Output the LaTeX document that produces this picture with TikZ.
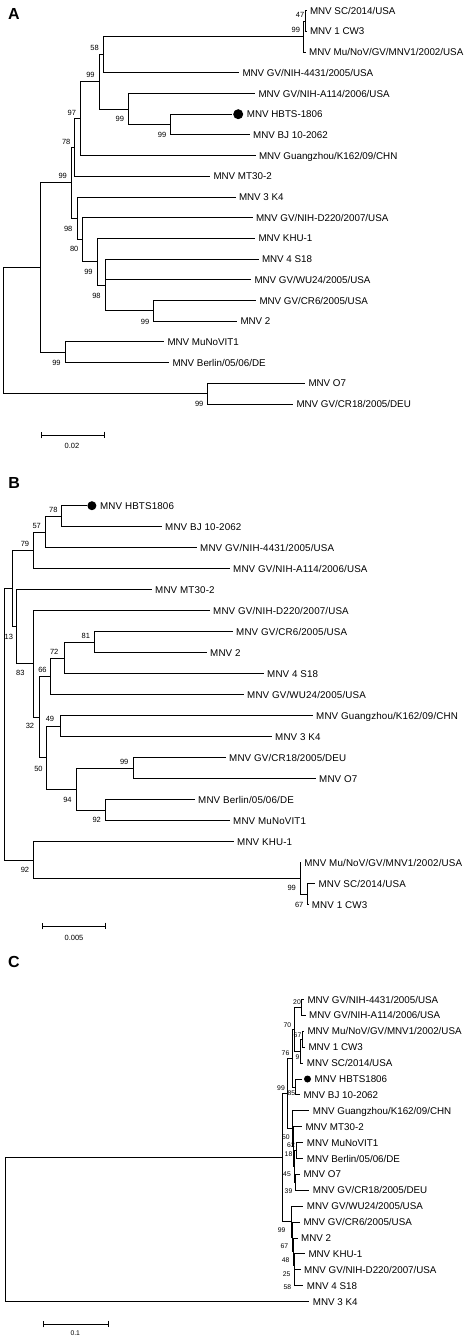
\documentclass[tikz,border=0pt]{standalone}
\usepackage{fontspec}
\setmainfont{Liberation Sans}
\newfontfamily\spacedsans[LetterSpace=1.5]{Liberation Sans}
\usetikzlibrary{arrows.meta,positioning}

\begin{document}
\begin{tikzpicture}[
  x=1pt, y=-1pt,
  branch/.style={line width=0.85pt},
  leaf/.style={anchor=west, inner xsep=3.3pt, inner ysep=0pt, text height=7pt, text depth=0pt, font=\fontsize{9.8}{10}\selectfont},
  leafb/.style={leaf, font=\fontsize{9.8}{10}\spacedsans},
  boot/.style={inner sep=0pt, text height=5.4pt, text depth=0pt, font=\fontsize{7.5}{8}\selectfont},
  bootc/.style={boot, text height=4.9pt, font=\fontsize{6.8}{7}\selectfont},
  hbdot/.style={circle, fill=black, inner sep=0pt, minimum size=#1, anchor=west},
  panel/.style={inner sep=0pt, font=\fontsize{16}{18}\selectfont\bfseries},
  scalebar/.style={line width=0.85pt, {Bar[width=6.7pt]}-{Bar[width=6.7pt]}}
]
\path[fill=white, use as bounding box] (0,0) rectangle (468,1339);

% panel A
\node[panel] (lab-a) at (14,14.2) {A};
\node[leaf] (a-sc) at (306.5,10.7) {MNV SC/2014/USA};
\node[leaf] (a-cw3) at (306.5,31.4) {MNV 1 CW3};
\node[leaf] (a-mu) at (305.7,52.1) {MNV Mu/NoV/GV/MNV1/2002/USA};
\node[leaf] (a-4431) at (239,72.8) {MNV GV/NIH-4431/2005/USA};
\node[leaf] (a-a114) at (255,93.5) {MNV GV/NIH-A114/2006/USA};
\node[hbdot=10pt] (a-dot) at (233,114.2) {};
\node[leaf, right=0pt of a-dot] (a-hbts) {MNV HBTS-1806};
\node[leaf] (a-bj) at (249.7,134.9) {MNV BJ 10-2062};
\node[leaf] (a-gz) at (255.5,155.6) {MNV Guangzhou/K162/09/CHN};
\node[leaf] (a-mt) at (210,176.3) {MNV MT30-2};
\node[leaf] (a-k4) at (235.5,197) {MNV 3 K4};
\node[leaf] (a-d220) at (252.5,217.7) {MNV GV/NIH-D220/2007/USA};
\node[leaf] (a-khu) at (255,238.4) {MNV KHU-1};
\node[leaf] (a-s18) at (258.5,259.1) {MNV 4 S18};
\node[leaf] (a-wu24) at (251,279.8) {MNV GV/WU24/2005/USA};
\node[leaf] (a-cr6) at (256,300.5) {MNV GV/CR6/2005/USA};
\node[leaf] (a-mnv2) at (237,321.2) {MNV 2};
\node[leaf] (a-vit) at (164,341.9) {MNV MuNoVIT1};
\node[leaf] (a-ber) at (169,362.6) {MNV Berlin/05/06/DE};
\node[leaf] (a-o7) at (305,383.3) {MNV O7};
\node[leaf] (a-cr18) at (293,404) {MNV GV/CR18/2005/DEU};

\coordinate (a47) at (305,21.05);
\coordinate (a99a) at (303.5,36.6);
\coordinate (a58) at (103.3,54.7);
\coordinate (a99c) at (170,124.55);
\coordinate (a99b) at (128.3,109);
\coordinate (a99d) at (99.3,81.85);
\coordinate (a97) at (80,118.7);
\coordinate (a78) at (74,147.5);
\coordinate (a99h) at (153.3,310.85);
\coordinate (a98b) at (105,285);
\coordinate (a99g) at (97.3,261.7);
\coordinate (a80) at (82.3,239.7);
\coordinate (a98) at (77.7,218.35);
\coordinate (a99e) at (71,182.9);
\coordinate (a99f) at (65.7,352.25);
\coordinate (a-x1) at (40,267.6);
\coordinate (a99i) at (207.7,393.65);
\coordinate (a-root) at (3.3,330.6);

\draw[branch] (a47) |- (a-sc.west) (a47) |- (a-cw3.west);
\draw[branch] (a99a) |- (a47) (a99a) |- (a-mu.west);
\draw[branch] (a58) |- (a99a) (a58) |- (a-4431.west);
\draw[branch, shorten >=1.3pt] (a99c) |- (a-dot.west);
\draw[branch] (a99c) |- (a-bj.west);
\draw[branch] (a99b) |- (a-a114.west) (a99b) |- (a99c);
\draw[branch] (a99d) |- (a58) (a99d) |- (a99b);
\draw[branch] (a97) |- (a99d) (a97) |- (a-gz.west);
\draw[branch] (a78) |- (a97) (a78) |- (a-mt.west);
\draw[branch] (a99h) |- (a-cr6.west) (a99h) |- (a-mnv2.west);
\draw[branch] (a98b) |- (a-s18.west) (a98b) |- (a-wu24.west) (a98b) |- (a99h);
\draw[branch] (a99g) |- (a-khu.west) (a99g) |- (a98b);
\draw[branch] (a80) |- (a-d220.west) (a80) |- (a99g);
\draw[branch] (a98) |- (a-k4.west) (a98) |- (a80);
\draw[branch] (a99e) |- (a78) (a99e) |- (a98);
\draw[branch] (a99f) |- (a-vit.west) (a99f) |- (a-ber.west);
\draw[branch] (a-x1) |- (a99e) (a-x1) |- (a99f);
\draw[branch] (a99i) |- (a-o7.west) (a99i) |- (a-cr18.west);
\draw[branch] (a-root) |- (a-x1) (a-root) |- (a99i);

\node[boot] (a-b47) at (300,15) {47};
\node[boot] (a-b99a) at (295.8,30) {99};
\node[boot] (a-b58) at (94.5,47.5) {58};
\node[boot] (a-b99d) at (90.5,75) {99};
\node[boot] (a-b99b) at (119.8,118.3) {99};
\node[boot] (a-b99c) at (162,134.8) {99};
\node[boot] (a-b97) at (71.8,112.5) {97};
\node[boot] (a-b78) at (66.2,141.5) {78};
\node[boot] (a-b99e) at (62.7,176) {99};
\node[boot] (a-b98) at (68.2,228.5) {98};
\node[boot] (a-b80) at (74.2,249.2) {80};
\node[boot] (a-b99g) at (88.5,271.5) {99};
\node[boot] (a-b98b) at (96.5,295.8) {98};
\node[boot] (a-b99h) at (145,321.5) {99};
\node[boot] (a-b99f) at (56.5,362.5) {99};
\node[boot] (a-b99i) at (199.2,404) {99};

\coordinate (a-sbl) at (41,435);
\coordinate (a-sbr) at (105,435);
\draw[scalebar] (a-sbl) -- (a-sbr);
\node[boot] (a-sblab) at (72,445.7) {0.02};

% panel B
\node[panel] (lab-b) at (14.2,482.5) {B};
\node[hbdot=9pt] (b-dot) at (87.2,505.7) {};
\node[leafb, right=0pt of b-dot] (b-hbts) {MNV HBTS1806};
\node[leafb] (b-bj) at (161.7,526.7) {MNV BJ 10-2062};
\node[leafb] (b-4431) at (196.7,547.7) {MNV GV/NIH-4431/2005/USA};
\node[leafb] (b-a114) at (229.7,568.7) {MNV GV/NIH-A114/2006/USA};
\node[leafb] (b-mt) at (151.7,589.7) {MNV MT30-2};
\node[leafb] (b-d220) at (209.7,610.7) {MNV GV/NIH-D220/2007/USA};
\node[leafb] (b-cr6) at (232.7,631.7) {MNV GV/CR6/2005/USA};
\node[leafb] (b-mnv2) at (206.7,652.7) {MNV 2};
\node[leafb] (b-s18) at (263.7,673.7) {MNV 4 S18};
\node[leafb] (b-wu24) at (243.7,694.7) {MNV GV/WU24/2005/USA};
\node[leafb] (b-gz) at (312.7,715.7) {MNV Guangzhou/K162/09/CHN};
\node[leafb] (b-k4) at (271.7,736.7) {MNV 3 K4};
\node[leafb] (b-cr18) at (225.7,757.7) {MNV GV/CR18/2005/DEU};
\node[leafb] (b-o7) at (315.7,778.7) {MNV O7};
\node[leafb] (b-ber) at (194.7,799.7) {MNV Berlin/05/06/DE};
\node[leafb] (b-vit) at (229.7,820.7) {MNV MuNoVIT1};
\node[leafb] (b-khu) at (233.7,841.7) {MNV KHU-1};
\node[leafb] (b-mu) at (300.8,862.7) {MNV Mu/NoV/GV/MNV1/2002/USA};
\node[leafb] (b-sc) at (315,883.7) {MNV SC/2014/USA};
\node[leafb] (b-cw3) at (308.4,904.7) {MNV 1 CW3};

\coordinate (b78) at (61.7,516.2);
\coordinate (b57) at (45,531.95);
\coordinate (b79) at (33.3,550.3);
\coordinate (b81) at (94.3,642.2);
\coordinate (b72) at (64,657.95);
\coordinate (b66) at (50,676.3);
\coordinate (b49) at (60,726.2);
\coordinate (b99) at (133.3,768.2);
\coordinate (b92) at (105.7,810.2);
\coordinate (b94) at (76.7,789.2);
\coordinate (b50) at (46.7,757.7);
\coordinate (b32) at (39.3,717);
\coordinate (b83) at (33.3,663.85);
\coordinate (b13) at (16,626.8);
\coordinate (b-n1) at (12.7,588.55);
\coordinate (b67) at (307.5,894.2);
\coordinate (b99b) at (300,878.45);
\coordinate (b92b) at (33.3,860.1);
\coordinate (b-root) at (4,724.3);

\draw[branch, shorten >=0.5pt] (b78) |- (b-dot.west);
\draw[branch] (b78) |- (b-bj.west);
\draw[branch] (b57) |- (b78) (b57) |- (b-4431.west);
\draw[branch] (b79) |- (b57) (b79) |- (b-a114.west);
\draw[branch] (b81) |- (b-cr6.west) (b81) |- (b-mnv2.west);
\draw[branch] (b72) |- (b81) (b72) |- (b-s18.west);
\draw[branch] (b66) |- (b72) (b66) |- (b-wu24.west);
\draw[branch] (b49) |- (b-gz.west) (b49) |- (b-k4.west);
\draw[branch] (b99) |- (b-cr18.west) (b99) |- (b-o7.west);
\draw[branch] (b92) |- (b-ber.west) (b92) |- (b-vit.west);
\draw[branch] (b94) |- (b99) (b94) |- (b92);
\draw[branch] (b50) |- (b49) (b50) |- (b94);
\draw[branch] (b32) |- (b66) (b32) |- (b50);
\draw[branch] (b83) |- (b-d220.west) (b83) |- (b32);
\draw[branch] (b13) |- (b-mt.west) (b13) |- (b83);
\draw[branch] (b-n1) |- (b79) (b-n1) |- (b13);
\draw[branch] (b67) |- (b-sc.west) (b67) |- (b-cw3.west);
\draw[branch] (b99b) |- (b-mu.west) (b99b) |- (b67);
\draw[branch] (b92b) |- (b-khu.west) (b92b) |- (b99b);
\draw[branch] (b-root) |- (b-n1) (b-root) |- (b92b);

\node[boot] (b-b78) at (53.3,510) {78};
\node[boot] (b-b57) at (36.7,525.8) {57};
\node[boot] (b-b79) at (25,544.2) {79};
\node[boot] (b-b13) at (8.8,636.8) {13};
\node[boot] (b-b83) at (20.3,672.5) {83};
\node[boot] (b-b81) at (85.8,635.8) {81};
\node[boot] (b-b72) at (54.2,651.8) {72};
\node[boot] (b-b66) at (42.5,670) {66};
\node[boot] (b-b32) at (30,725.8) {32};
\node[boot] (b-b49) at (50,719.2) {49};
\node[boot] (b-b50) at (38.5,768.5) {50};
\node[boot] (b-b99) at (124.2,761.8) {99};
\node[boot] (b-b94) at (67.5,800) {94};
\node[boot] (b-b92) at (96.7,820.2) {92};
\node[boot] (b-b92b) at (25,870.2) {92};
\node[boot] (b-b99b) at (291.7,888.2) {99};
\node[boot] (b-b67) at (299.2,905) {67};

\coordinate (b-sbl) at (42,926);
\coordinate (b-sbr) at (106,926);
\draw[scalebar] (b-sbl) -- (b-sbr);
\node[boot] (b-sblab) at (74,937.5) {0.005};

% panel C
\node[panel] (lab-c) at (14,962) {C};
\node[leaf] (c-4431) at (304,999.5) {MNV GV/NIH-4431/2005/USA};
\node[leaf] (c-a114) at (305.7,1015.4) {MNV GV/NIH-A114/2006/USA};
\node[leaf] (c-mu) at (304,1031.3) {MNV Mu/NoV/GV/MNV1/2002/USA};
\node[leaf] (c-cw3) at (305,1047.2) {MNV 1 CW3};
\node[leaf] (c-sc) at (303.4,1063.1) {MNV SC/2014/USA};
\node[hbdot=7pt] (c-dot) at (303.8,1079) {};
\node[leaf, right=0pt of c-dot] (c-hbts) {MNV HBTS1806};
\node[leaf] (c-bj) at (300,1094.9) {MNV BJ 10-2062};
\node[leaf] (c-gz) at (309.4,1110.8) {MNV Guangzhou/K162/09/CHN};
\node[leaf] (c-mt) at (302,1126.7) {MNV MT30-2};
\node[leaf] (c-vit) at (303.4,1142.6) {MNV MuNoVIT1};
\node[leaf] (c-ber) at (303.4,1158.5) {MNV Berlin/05/06/DE};
\node[leaf] (c-o7) at (300,1174.4) {MNV O7};
\node[leaf] (c-cr18) at (309.4,1190.3) {MNV GV/CR18/2005/DEU};
\node[leaf] (c-wu24) at (303.4,1206.2) {MNV GV/WU24/2005/USA};
\node[leaf] (c-cr6) at (300,1222.1) {MNV GV/CR6/2005/USA};
\node[leaf] (c-mnv2) at (297.7,1238) {MNV 2};
\node[leaf] (c-khu) at (305,1253.9) {MNV KHU-1};
\node[leaf] (c-d220) at (300.7,1269.8) {MNV GV/NIH-D220/2007/USA};
\node[leaf] (c-s18) at (303.4,1285.7) {MNV 4 S18};
\node[leaf] (c-k4) at (309.4,1301.6) {MNV 3 K4};

\coordinate (c20) at (301,1007.45);
\coordinate (c67) at (302,1039.25);
\coordinate (c9) at (300,1051.2);
\coordinate (c70) at (294,1029.3);
\coordinate (c85) at (295.5,1086.95);
\coordinate (c76) at (292.5,1058.1);
\coordinate (c62) at (296.7,1150.55);
\coordinate (c45) at (295.5,1182.35);
\coordinate (c18) at (294.2,1166.45);
\coordinate (c50) at (293.5,1146.6);
\coordinate (c39) at (292.5,1128.7);
\coordinate (c99a) at (287.5,1093.4);
\coordinate (c99b) at (291.7,1221.6);
\coordinate (c67b) at (292.5,1237);
\coordinate (c48) at (293.3,1251.9);
\coordinate (c25) at (294,1265.8);
\coordinate (c58) at (294.7,1277.75);
\coordinate (c-in) at (282.5,1157.5);
\coordinate (c-root) at (5,1229.55);

\draw[branch] (c20) |- (c-4431.west) (c20) |- (c-a114.west);
\draw[branch] (c67) |- (c-mu.west) (c67) |- (c-cw3.west);
\draw[branch] (c9) |- (c67) (c9) |- (c-sc.west);
\draw[branch] (c70) |- (c20) (c70) |- (c9);
\draw[branch, shorten >=2pt] (c85) |- (c-dot.west);
\draw[branch] (c85) |- (c-bj.west);
\draw[branch] (c76) |- (c70) (c76) |- (c85);
\draw[branch] (c62) |- (c-vit.west) (c62) |- (c-ber.west);
\draw[branch] (c45) |- (c-o7.west) (c45) |- (c-cr18.west);
\draw[branch] (c18) |- (c62) (c18) |- (c45);
\draw[branch] (c50) |- (c-mt.west) (c50) |- (c18);
\draw[branch] (c39) |- (c-gz.west) (c39) |- (c50);
\draw[branch] (c99a) |- (c76) (c99a) |- (c39);
\draw[branch] (c58) |- (c-d220.west) (c58) |- (c-s18.west);
\draw[branch] (c25) |- (c-khu.west) (c25) |- (c58);
\draw[branch] (c48) |- (c-mnv2.west) (c48) |- (c25);
\draw[branch] (c67b) |- (c-cr6.west) (c67b) |- (c48);
\draw[branch] (c99b) |- (c-wu24.west) (c99b) |- (c67b);
\draw[branch] (c-in) |- (c99a) (c-in) |- (c99b);
\draw[branch] (c-root) |- (c-in) (c-root) |- (c-k4.west);

\node[bootc] (c-b20) at (297,1002.5) {20};
\node[bootc] (c-b70) at (287.3,1025) {70};
\node[bootc] (c-b67) at (297.5,1035) {67};
\node[bootc] (c-b76) at (285.5,1053.5) {76};
\node[bootc] (c-b9) at (297.5,1057.5) {9};
\node[bootc] (c-b99a) at (281,1088.3) {99};
\node[bootc] (c-b85) at (291.3,1093.5) {85};
\node[bootc] (c-b50) at (285.8,1136.7) {50};
\node[bootc] (c-b62) at (291,1145.5) {62};
\node[bootc] (c-b18) at (288.5,1154.5) {18};
\node[bootc] (c-b45) at (287,1174.5) {45};
\node[bootc] (c-b39) at (288.5,1190.7) {39};
\node[bootc] (c-b99b) at (281.7,1230) {99};
\node[bootc] (c-b67b) at (284.3,1245.7) {67};
\node[bootc] (c-b48) at (285.7,1260) {48};
\node[bootc] (c-b25) at (286.7,1274.3) {25};
\node[bootc] (c-b58) at (287.3,1286.7) {58};

\coordinate (c-sbl) at (42.7,1324);
\coordinate (c-sbr) at (109.3,1324);
\draw[scalebar] (c-sbl) -- (c-sbr);
\node[bootc] (c-sblab) at (75.3,1333) {0.1};
\end{tikzpicture}
\end{document}
